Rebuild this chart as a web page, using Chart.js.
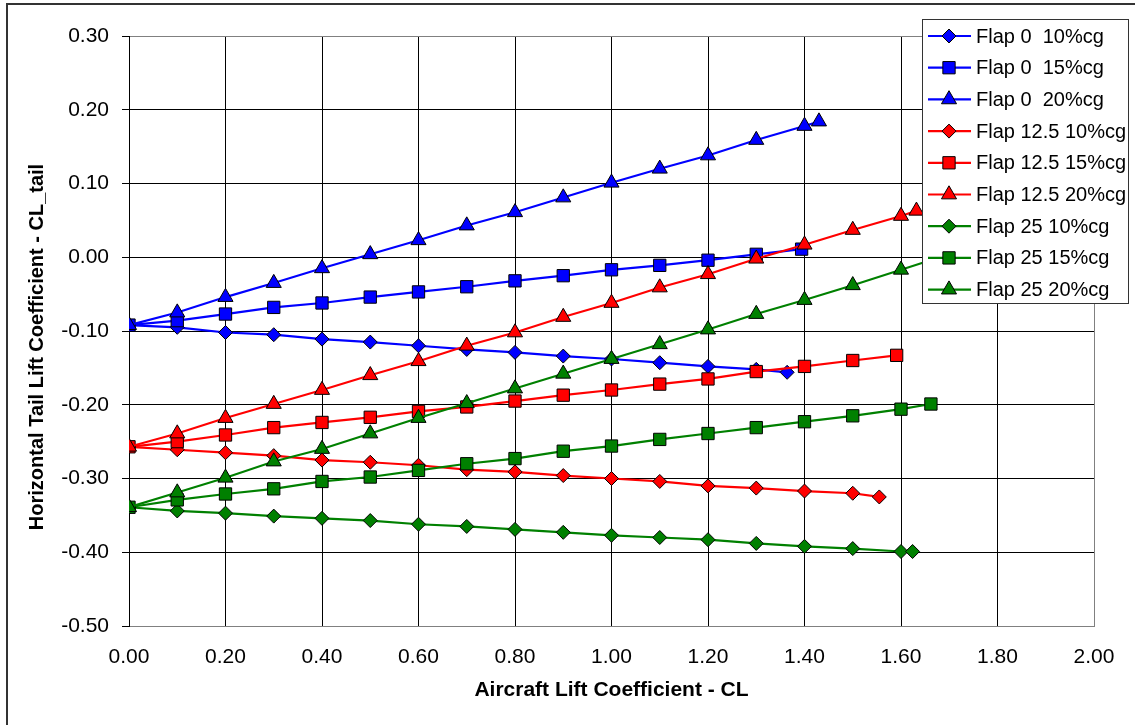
<!DOCTYPE html>
<html>
<head>
<meta charset="utf-8">
<script src="https://cdn.jsdelivr.net/npm/chart.js@4/dist/chart.umd.min.js"></script>
<style>
  body { margin: 0; background: #fff; }
  #wrap { width: 1135px; height: 725px; position: relative; }
</style>
</head>
<body>
<div id="wrap"><canvas id="myChart"></canvas></div>
<script>
// CL steps shared by every series
var cl = [0, 0.1, 0.2, 0.3, 0.4, 0.5, 0.6, 0.7, 0.8, 0.9, 1.0, 1.1, 1.2, 1.3, 1.4, 1.5, 1.6];

var seriesNames = ["Flap 0  10%cg", "Flap 0  15%cg", "Flap 0  20%cg",
                   "Flap 12.5 10%cg", "Flap 12.5 15%cg", "Flap 12.5 20%cg",
                   "Flap 25 10%cg", "Flap 25 15%cg", "Flap 25 20%cg"];

// CL_tail values read at each CL step
var flap0_10 = [-0.092, -0.095, -0.102, -0.105, -0.111, -0.115, -0.120, -0.125, -0.129, -0.134, -0.138, -0.143, -0.148, -0.152];
var flap0_15 = [-0.092, -0.086, -0.077, -0.068, -0.062, -0.054, -0.047, -0.040, -0.032, -0.025, -0.017, -0.011, -0.004, 0.004];
var flap0_20 = [-0.092, -0.075, -0.054, -0.035, -0.015, 0.004, 0.023, 0.043, 0.061, 0.081, 0.101, 0.120, 0.138, 0.159, 0.178];
var flap12_10 = [-0.257, -0.261, -0.265, -0.269, -0.275, -0.278, -0.282, -0.288, -0.291, -0.296, -0.300, -0.304, -0.310, -0.313, -0.317, -0.320];
var flap12_15 = [-0.257, -0.250, -0.241, -0.231, -0.224, -0.217, -0.209, -0.203, -0.195, -0.187, -0.180, -0.172, -0.165, -0.155, -0.148, -0.140];
var flap12_20 = [-0.257, -0.239, -0.218, -0.199, -0.180, -0.160, -0.141, -0.120, -0.102, -0.081, -0.062, -0.041, -0.023, -0.002, 0.017, 0.037, 0.056];
var flap25_10 = [-0.339, -0.344, -0.347, -0.351, -0.354, -0.357, -0.362, -0.365, -0.369, -0.373, -0.377, -0.380, -0.383, -0.388, -0.392, -0.395, -0.399];
var flap25_15 = [-0.339, -0.329, -0.321, -0.314, -0.304, -0.298, -0.289, -0.280, -0.273, -0.263, -0.256, -0.247, -0.239, -0.231, -0.223, -0.215, -0.206];
var flap25_20 = [-0.339, -0.319, -0.299, -0.277, -0.260, -0.239, -0.218, -0.198, -0.178, -0.158, -0.138, -0.118, -0.098, -0.077, -0.058, -0.038, -0.017];

// last point of each curve (max CL)
var endCL   = [1.364, 1.394, 1.43, 1.555, 1.591, 1.632, 1.624, 1.662, 1.69];
var endTail = [-0.156, 0.011, 0.184, -0.325, -0.133, 0.063, -0.399, -0.199, 0.002];

var xTicks = [0, 0.2, 0.4, 0.6, 0.8, 1.0, 1.2, 1.4, 1.6, 1.8, 2.0];
var yTicks = [-0.5, -0.4, -0.3, -0.2, -0.1, 0, 0.1, 0.2, 0.3];

var xTitle = "Aircraft Lift Coefficient - CL";
var yTitle = "Horizontal Tail Lift Coefficient - CL_tail";

var allY = [flap0_10, flap0_15, flap0_20, flap12_10, flap12_15, flap12_20, flap25_10, flap25_15, flap25_20];
var colores = ["#0000ff", "#0000ff", "#0000ff", "#ff0000", "#ff0000", "#ff0000", "#008000", "#008000", "#008000"];
var formas = ["rectRot", "rect", "triangle", "rectRot", "rect", "triangle", "rectRot", "rect", "triangle"];

var FONT = "'Liberation Sans', Arial, sans-serif";

function radio(shape) {
    return shape == "rectRot" ? 7 : 8.7;
}

var datasets = [];
for (let i = 0; i < allY.length; i++) {
    var pts = [];
    for (let j = 0; j < allY[i].length; j++) {
        pts.push({x: cl[j], y: allY[i][j]});
    }
    pts.push({x: endCL[i], y: endTail[i]});
    datasets.push({
        label: seriesNames[i],
        data: pts,
        borderColor: colores[i],
        backgroundColor: colores[i],
        borderWidth: 2.2,
        pointStyle: formas[i],
        pointRadius: radio(formas[i]),
        pointBorderColor: "#000",
        pointBorderWidth: 1,
        tension: 0,
        order: 9 - i
    });
}

// dibuja un marcador como los de la serie
function marker(ctx, shape, x, y, r, color) {
    ctx.beginPath();
    if (shape == "rectRot") {
        ctx.moveTo(x - r, y); ctx.lineTo(x, y - r); ctx.lineTo(x + r, y); ctx.lineTo(x, y + r);
    } else if (shape == "rect") {
        var s = r * Math.SQRT1_2;
        ctx.rect(x - s, y - s, 2 * s, 2 * s);
    } else {
        var w = r * Math.sin(Math.PI / 3);
        ctx.moveTo(x, y - r); ctx.lineTo(x + w, y + r / 2); ctx.lineTo(x - w, y + r / 2);
    }
    ctx.closePath();
    ctx.fillStyle = color;
    ctx.fill();
    ctx.lineWidth = 1;
    ctx.strokeStyle = "#000";
    ctx.stroke();
}

// leyenda dentro del grafico, titulo del eje y y borde exterior
var excelLegend = {
    id: "excelLegend",
    afterDraw: function(chart) {
        var ctx = chart.ctx;
        ctx.save();
        // outer frame
        ctx.strokeStyle = "#333";
        ctx.lineWidth = 2;
        ctx.beginPath();
        ctx.moveTo(7, 740); ctx.lineTo(7, 4); ctx.lineTo(1150, 4);
        ctx.stroke();

        // y axis title (rotated)
        ctx.save();
        ctx.translate(37, 347);
        ctx.rotate(-Math.PI / 2);
        ctx.font = "bold 20px " + FONT;
        ctx.fillStyle = "#000";
        ctx.textAlign = "center";
        ctx.textBaseline = "middle";
        ctx.fillText(yTitle, 0, 0);
        ctx.restore();

        // legend box
        ctx.fillStyle = "#fff";
        ctx.fillRect(922.5, 19.5, 206, 284);
        ctx.strokeStyle = "#333";
        ctx.lineWidth = 1;
        ctx.strokeRect(922.5, 19.5, 206, 284);

        ctx.font = "20px " + FONT;
        ctx.textBaseline = "middle";
        for (let i = 0; i < seriesNames.length; i++) {
            var yy = 36 + i * 31.7;
            ctx.strokeStyle = colores[i];
            ctx.lineWidth = 2.2;
            ctx.beginPath();
            ctx.moveTo(928, yy); ctx.lineTo(971, yy);
            ctx.stroke();
            marker(ctx, formas[i], 949, yy, radio(formas[i]), colores[i]);
            ctx.fillStyle = "#000";
            ctx.fillText(seriesNames[i], 976, yy + 1);
        }
        ctx.restore();
    }
};

function fmt(v) {
    if (Math.abs(v) < 1e-9) v = 0;
    return v.toFixed(2);
}

var ctx = document.getElementById("myChart");
var myChart = new Chart(ctx, {
    type: "line",
    data: { datasets: datasets },
    options: {
        responsive: true,
        maintainAspectRatio: false,
        animation: false,
        layout: { padding: { left: 0, top: 36, right: 41, bottom: 0 } },
        plugins: {
            legend: { display: false },
            tooltip: { enabled: false }
        },
        scales: {
            x: {
                type: "linear",
                min: 0,
                max: 2,
                afterBuildTicks: function(scale) {
                    scale.ticks = xTicks.map(function(v) { return {value: v}; });
                },
                afterFit: function(scale) { scale.height = 99; },
                ticks: {
                    color: "#000",
                    padding: 19,
                    maxRotation: 0,
                    font: { family: FONT, size: 21 },
                    callback: function(v) { return fmt(v); }
                },
                grid: {
                    color: function(c) { return c.tick && Math.abs(c.tick.value - 2) < 1e-6 ? "#808080" : "#000"; },
                    drawTicks: false
                },
                border: { color: "#808080", width: 1 },
                title: {
                    display: true,
                    text: xTitle,
                    color: "#000",
                    font: { family: FONT, size: 21, weight: "bold" },
                    padding: { top: 0, bottom: 22 }
                }
            },
            y: {
                min: -0.5,
                max: 0.3,
                afterBuildTicks: function(scale) {
                    scale.ticks = yTicks.map(function(v) { return {value: v}; });
                },
                afterFit: function(scale) { scale.width = 129; },
                ticks: {
                    color: "#000",
                    padding: 13,
                    font: { family: FONT, size: 21 },
                    callback: function(v) { return fmt(v); }
                },
                grid: {
                    color: function(c) { return c.tick && Math.abs(c.tick.value - 0.3) < 1e-6 ? "#808080" : "#000"; },
                    tickColor: "#000",
                    tickLength: 7
                },
                border: { color: "#000", width: 1 }
            }
        }
    },
    plugins: [excelLegend]
});
</script>
</body>
</html>
